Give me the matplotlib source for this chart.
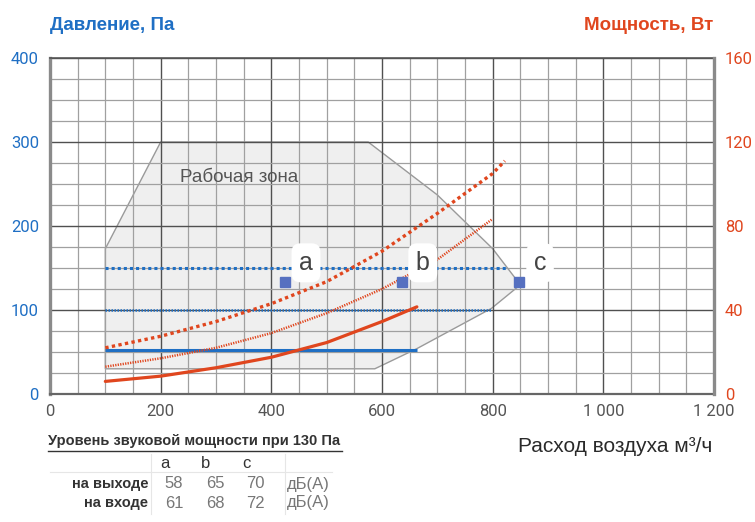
import numpy as np
import matplotlib
matplotlib.use("Agg")
import matplotlib.pyplot as plt
from matplotlib.patches import Polygon
from matplotlib.lines import Line2D

# ---- data ----
flow_ticks = [0, 200, 400, 600, 800, 1000, 1200]
flow_tick_labels = ["0", "200", "400", "600", "800", "1 000", "1 200"]
pressure_ticks = [0, 100, 200, 300, 400]
power_ticks = [0, 40, 80, 120, 160]

# working zone outline (flow, pressure)
zone_flow = [100, 100, 200, 575, 700, 800, 850, 798, 663, 587]
zone_pressure = [30, 173, 300, 300, 237, 173, 130, 102, 54, 30]

# pressure lines (Pa)
p_high_flow = [100, 825]
p_high = [150, 150]
p_mid_flow = [100, 798]
p_mid = [100, 100]
p_low_flow = [100, 663]
p_low = [52, 52]

# power curves (W)
w_high_flow = [100, 200, 300, 400, 500, 545, 600, 700, 800, 822]
w_high = [22, 27.5, 34.5, 43, 53.5, 60, 68, 86, 105, 111]
w_mid_flow = [100, 200, 300, 400, 500, 600, 700, 798]
w_mid = [13, 17, 22, 29, 38.5, 50, 64, 83]
w_low_flow = [100, 200, 300, 400, 500, 600, 663]
w_low = [6, 8.5, 12.5, 17.5, 24.5, 34.5, 41.5]

# measuring points
point_names = ["a", "b", "c"]
point_flow = [425, 636, 848]
point_pressure = [133, 133, 133]

# sound power table
table_cols = ["a", "b", "c"]
table_rows = ["на выходе", "на входе"]
table_vals = [[58, 65, 70], [61, 68, 72]]

BLUE = "#1f6fc4"
RED = "#e0461e"
NARROW = ["Liberation Sans", "DejaVu Sans"]
TICKF = ["Roboto", "DejaVu Sans"]

W, H = 755, 522


def fx(px):
    return px / W


def fy(py):
    return 1 - py / H


fig = plt.figure(figsize=(W / 100, H / 100), dpi=100, facecolor="white")
ax = fig.add_axes([fx(50), fy(394), 664 / W, 336 / H])
ax2 = ax.twinx()

ax.set_xlim(0, 1200)
ax.set_ylim(0, 400)
ax2.set_ylim(0, 160)

# grid
ax.set_xticks(flow_ticks)
ax.set_xticks(np.arange(0, 1201, 50), minor=True)
ax.set_yticks(pressure_ticks)
ax.set_yticks(np.arange(0, 401, 25), minor=True)
ax.grid(which="minor", color="#a0a0a0", lw=0.9)
ax.grid(which="major", color="#505050", lw=1.0)
ax.set_axisbelow("line")

ax.set_xticklabels(flow_tick_labels, family=TICKF, fontsize=12, color="#555555")
ax.set_yticklabels([str(v) for v in pressure_ticks], family=TICKF, fontsize=12, color=BLUE)
ax2.set_yticks(power_ticks)
ax2.set_yticklabels([str(v) for v in power_ticks], family=TICKF, fontsize=12, color=RED)
ax.tick_params(which="both", length=0)
ax.tick_params(axis="x", pad=7)
ax.tick_params(axis="y", pad=8)
ax2.tick_params(which="both", length=0, pad=8)

for a in (ax, ax2):
    for s in a.spines.values():
        s.set_visible(False)
ax.spines["left"].set_visible(True)
ax.spines["left"].set(color="#8a8a8a", lw=2.4)
ax.spines["bottom"].set_visible(True)
ax.spines["bottom"].set(color="#666666", lw=1.6)
ax.spines["top"].set_visible(True)
ax.spines["top"].set(color="#555555", lw=1.2)
ax2.spines["right"].set_visible(True)
ax2.spines["right"].set(color="#8a8a8a", lw=2.4)

# working zone
zone = Polygon(np.column_stack([zone_flow, zone_pressure]), closed=True,
               facecolor="#efefef", edgecolor="#9a9a9a", lw=1.0, zorder=1)
ax.add_patch(zone)
ax.text(235, 258, "Рабочая зона", family=NARROW, fontsize=13.5, color="#555555",
        va="center", ha="left", zorder=3)

# pressure lines
ax.plot(p_high_flow, p_high, color=BLUE, lw=2.2, ls=(0, (1, 1)), zorder=3)
ax.plot(p_mid_flow, p_mid, color=BLUE, lw=1.8, ls=(0, (0.6, 0.6)), zorder=3)
ax.plot(p_low_flow, p_low, color=BLUE, lw=2.2, zorder=3, solid_capstyle="butt")

# power curves
ax2.plot(w_high_flow, w_high, color=RED, lw=2.4, ls=(0, (1, 1)), zorder=3)
ax2.plot(w_mid_flow, w_mid, color=RED, lw=1.8, ls=(0, (0.5, 0.5)), zorder=3)
ax2.plot(w_low_flow, w_low, color=RED, lw=2.3, zorder=3, solid_capstyle="round")

# points and labels
ax2.plot(point_flow, point_pressure, ls="none", marker="s", ms=6.5, color="#5670c0",
         transform=ax.transData, zorder=6)
for name, x, y in zip(point_names, point_flow, point_pressure):
    ax2.annotate(name, xy=(x, y), xycoords=ax.transData, xytext=(15, 14),
                 textcoords="offset points", ha="center", va="center",
                 family=NARROW, fontsize=18, color="#444444", zorder=7,
                 bbox=dict(boxstyle="round,pad=0.3,rounding_size=0.35",
                           fc="white", ec="none"))

# titles
fig.text(fx(50), fy(26), "Давление, Па", family=NARROW, fontsize=13.5, weight="bold",
         color=BLUE, ha="left", va="center")
fig.text(fx(713), fy(25), "Мощность, Вт", family=NARROW, fontsize=13.5, weight="bold",
         color=RED, ha="right", va="center")
fig.text(fx(712), fy(446), "Расход воздуха м³/ч", family=NARROW, fontsize=15,
         color="#2a2a2a", ha="right", va="center")

# sound power table
fig.text(fx(48), fy(441), "Уровень звуковой мощности при 130 Па", family=NARROW,
         fontsize=10.5, weight="bold", color="#333333", ha="left", va="center")
fig.add_artist(Line2D([fx(48), fx(342)], [fy(451), fy(451)], color="#333333", lw=1.0))
fig.add_artist(Line2D([fx(50), fx(332)], [fy(472), fy(472)], color="#e6e6e6", lw=0.8))
for px in (151, 285):
    fig.add_artist(Line2D([fx(px), fx(px)], [fy(454), fy(514)], color="#e6e6e6", lw=0.8))

col_x = [165, 206, 246]
val_x = [174, 215, 255]
for c, px in zip(table_cols, col_x):
    fig.text(fx(px), fy(463), c, family=NARROW, fontsize=12, color="#333333",
             ha="center", va="center")
for r, (label, vals) in enumerate(zip(table_rows, table_vals)):
    py = 484 + r * 19
    fig.text(fx(148), fy(py), label, family=NARROW, fontsize=10.5, weight="bold",
             color="#333333", ha="right", va="center")
    for v, px in zip(vals, val_x):
        fig.text(fx(px), fy(py), str(v), family=NARROW, fontsize=12, color="#777777",
                 ha="center", va="center")
    fig.text(fx(287), fy(py), "дБ(А)", family=NARROW, fontsize=12, color="#777777",
             ha="left", va="center")

fig.savefig("out.png", dpi=100, facecolor="white")
